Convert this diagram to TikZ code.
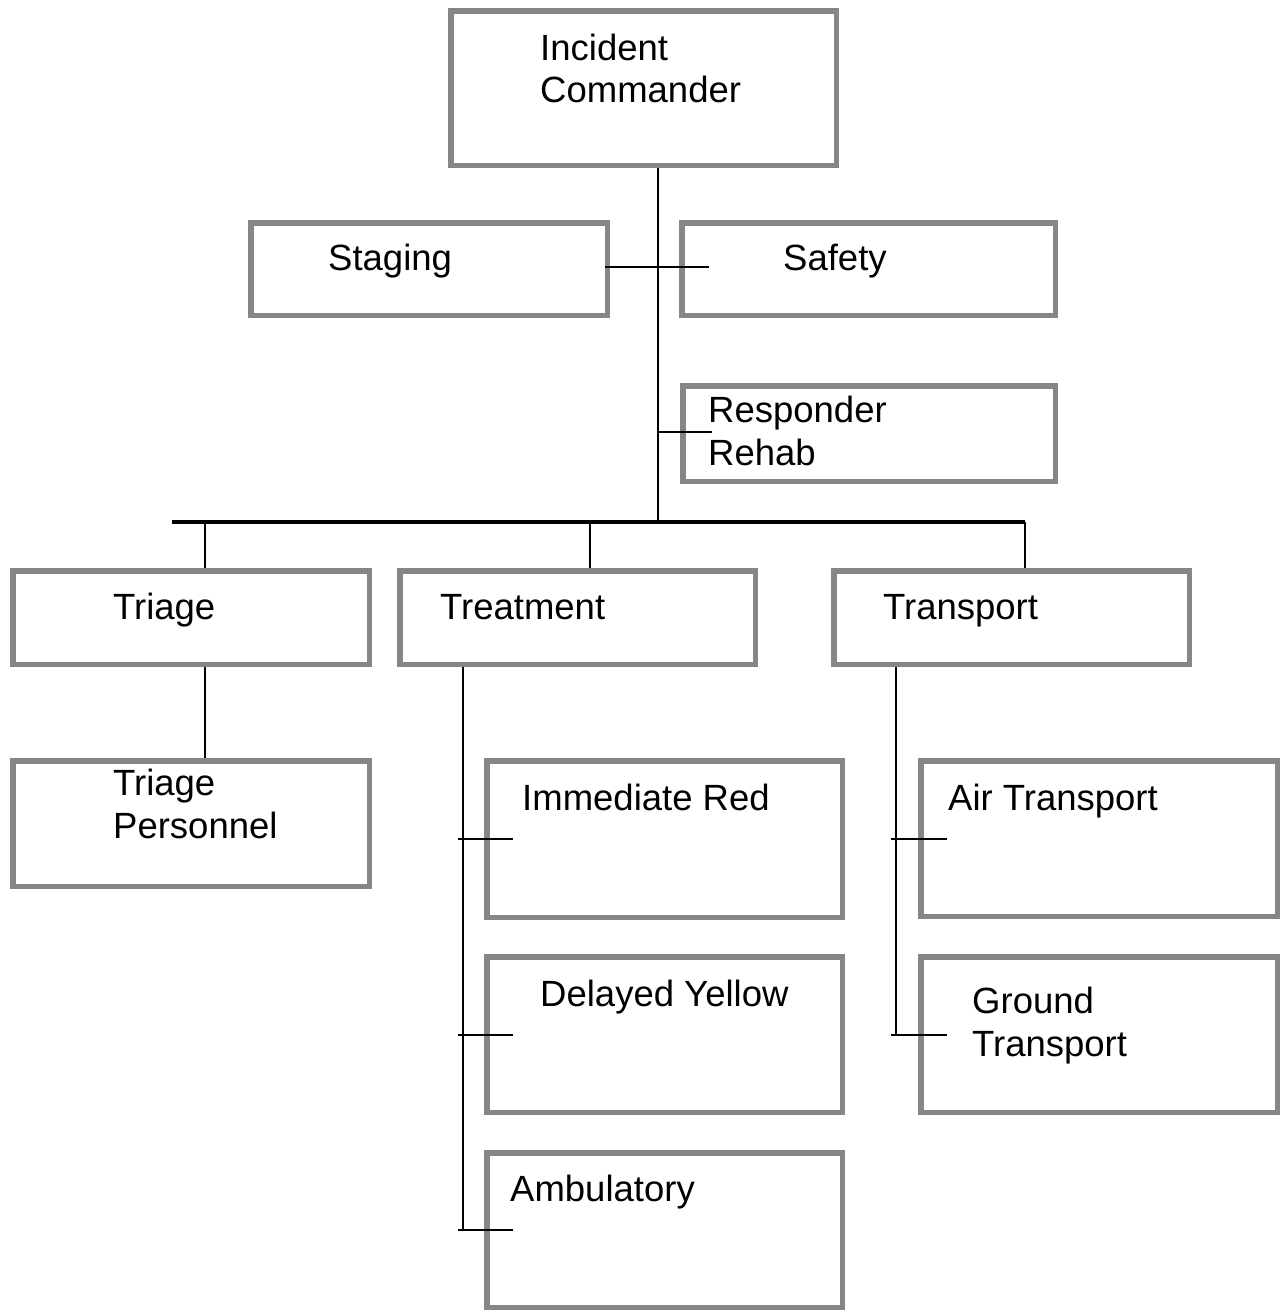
\documentclass[tikz,border=0pt]{standalone}
\usepackage{fontspec}
\setmainfont{Liberation Sans}
\definecolor{boxgray}{HTML}{868686}
\begin{document}
\begin{tikzpicture}[x=1pt,y=-1pt,
  box/.style={draw=boxgray, line width=5.5pt, fill=white, inner sep=0pt, rectangle},
  lbl/.style={anchor=base west, inner sep=0pt, font=\fontsize{36.5}{42}\selectfont, text=black},
  conn/.style={draw=black, line width=2.6pt},
  busline/.style={draw=black, line width=3.4pt}]
\useasboundingbox (0,0) rectangle (1284,1312);
\newcommand\bx[5]{\node[box, minimum width={#4-#2-5.5}, minimum height={#5-#3-5.5}] (#1) at ({(#2+#4)/2},{(#3+#5)/2}) {};}
% boxes
\bx{ic}{448}{8}{839}{168}
\bx{stg}{248}{220}{610}{318}
\bx{saf}{679}{220}{1058}{318}
\bx{reh}{680}{383}{1058}{484}
\bx{tri}{10}{568}{372}{667}
\bx{trt}{397}{568}{758}{667}
\bx{trp}{831}{568}{1192}{667}
\bx{tp}{10}{758}{372}{889}
\bx{red}{484}{758}{845}{920}
\bx{yel}{484}{954}{845}{1115}
\bx{amb}{484}{1150}{845}{1310}
\bx{air}{918}{758}{1280}{919}
\bx{gnd}{918}{954}{1280}{1115}
% junction coordinates
\coordinate (j) at (658,522);
\coordinate (busL) at (172,522);
\coordinate (busR) at (1025,522);
\coordinate (sl) at (605,267);
\coordinate (sr) at (709,267);
\coordinate (rl) at (657,432);
\coordinate (rr) at (712,432);
\coordinate (tv) at (463,667);
\coordinate (pv) at (896,667);
% connectors
\draw[conn] (j |- ic.south) -- (j);
\draw[conn] (sl) -- (sr);
\draw[conn] (rl) -- (rr);
\draw[busline] (busL) -- (busR);
\draw[conn] (tri.north -| 205,0) -- (205,522);
\draw[conn] (trt.north -| 590,0) -- (590,522);
\draw[conn] (trp.north -| busR) -- (busR);
\draw[conn] (tri.south -| 205,0) -- (tp.north -| 205,0);
\draw[conn] (tv) -- (tv |- amb.west |- 0,1230);
\draw[conn] (458,839) -- (red.west |- 0,839) -- ++(29,0);
\draw[conn] (458,1035) -- (yel.west |- 0,1035) -- ++(29,0);
\draw[conn] (458,1230) -- (amb.west |- 0,1230) -- ++(29,0);
\draw[conn] (pv) -- (pv |- 0,1035);
\draw[conn] (891,839) -- (air.west |- 0,839) -- ++(29,0);
\draw[conn] (891,1035) -- (gnd.west |- 0,1035) -- ++(29,0);
% labels
\node[lbl] (ic1) at (540,60) {Incident};
\node[lbl] (ic2) at (540,102) {Commander};
\node[lbl] (stgt) at (328,270) {Staging};
\node[lbl] (saft) at (783,270) {Safety};
\node[lbl] (reh1) at (708,422) {Responder};
\node[lbl] (reh2) at (708,465) {Rehab};
\node[lbl] (trit) at (113,619) {Triage};
\node[lbl] (trtt) at (440,619) {Treatment};
\node[lbl] (trpt) at (883,619) {Transport};
\node[lbl] (tp1) at (113,795) {Triage};
\node[lbl] (tp2) at (113,838) {Personnel};
\node[lbl] (redt) at (522,810) {Immediate Red};
\node[lbl] (yelt) at (540,1006) {Delayed Yellow};
\node[lbl] (ambt) at (510,1201) {Ambulatory};
\node[lbl] (airt) at (948,810) {Air Transport};
\node[lbl] (gnd1) at (972,1013) {Ground};
\node[lbl] (gnd2) at (972,1056) {Transport};
\end{tikzpicture}
\end{document}
